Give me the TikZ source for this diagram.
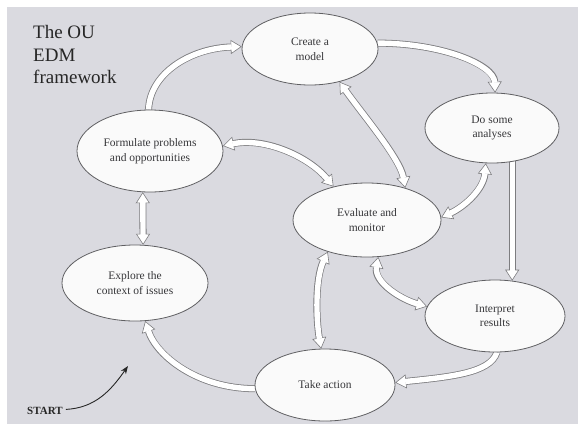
\documentclass[tikz,border=0pt]{standalone}
\usepackage{fontspec}
\setmainfont{Liberation Serif}
\usetikzlibrary{shapes.geometric,arrows.meta}
\pgfdeclarelayer{bg}
\pgfdeclarelayer{edges}
\pgfsetlayers{bg,edges,main}
\definecolor{bggray}{RGB}{218,218,224}
\definecolor{arrgray}{RGB}{125,125,128}
\definecolor{ellgray}{RGB}{95,95,98}
\definecolor{ellfill}{RGB}{250,250,250}
\definecolor{txtgray}{RGB}{55,55,58}
\tikzset{
  stage/.style={ellipse, draw=ellgray, line width=0.8pt, fill=ellfill, inner sep=0pt,
    align=center, text=txtgray, font=\fontsize{11.5}{14.5}\selectfont},
  fatarrow/.style={draw=arrgray, line width=0.6pt,
    -{Triangle[width=14pt,length=11pt,fill=white]},
    postaction={draw=arrgray, line width=7pt, -, shorten >=11pt},
    postaction={draw=white, line width=5.4pt, -, shorten >=10pt}},
  fatdouble/.style={draw=arrgray, line width=0.6pt,
    {Triangle[width=14pt,length=11pt,fill=white]}-{Triangle[width=14pt,length=11pt,fill=white]},
    postaction={draw=arrgray, line width=7pt, -, shorten >=11pt, shorten <=11pt},
    postaction={draw=white, line width=5.4pt, -, shorten >=10pt, shorten <=10pt}},
  titletext/.style={anchor=base west, inner sep=0pt, text=black!85, font=\fontsize{19}{22}\selectfont},
}
\begin{document}
\begin{tikzpicture}[x=1pt,y=1pt]
\useasboundingbox (0,0) rectangle (578,-424);
\begin{pgfonlayer}{bg}
  \fill[white] (0,0) rectangle (578,-424);
  \fill[bggray] (7,-7) rectangle (578,-424);
\end{pgfonlayer}

\node[titletext] (t1) at (33,-38) {The OU};
\node[titletext] (t2) at (33,-61) {EDM};
\node[titletext] (t3) at (33,-83) {framework};

\node[stage, minimum width=136pt, minimum height=72pt] (cm) at (310,-49) {Create a\\model};
\node[stage, minimum width=134pt, minimum height=70pt] (da) at (492,-128) {Do some\\analyses};
\node[stage, minimum width=146pt, minimum height=82pt] (fp) at (150,-151) {Formulate problems\\and opportunities};
\node[stage, minimum width=148pt, minimum height=74pt] (em) at (367,-220) {Evaluate and\\monitor};
\node[stage, minimum width=140pt, minimum height=72pt] (ir) at (495,-316) {Interpret\\results};
\node[stage, minimum width=140pt, minimum height=72pt] (ta) at (325,-385) {Take action};
\node[stage, minimum width=146pt, minimum height=76pt] (ec) at (135,-283) {Explore the\\context of issues};

\node[anchor=base west, inner sep=0pt, text=black!85, font=\fontsize{11}{13}\selectfont\bfseries] (st) at (27,-414) {START};
\coordinate (sttip) at (128,-366);
\draw[line width=0.9pt, black!85, -{Stealth[length=8pt,width=6pt]}]
  ([xshift=3pt,yshift=1pt]st.east) to[out=3,in=-125] (sttip);

\begin{pgfonlayer}{edges}
  \draw[fatarrow] (fp.92) to[out=88,in=182,out distance=36pt,in distance=52pt] (cm.178);
  \draw[fatarrow] (cm.5) to[out=0,in=92,out distance=64pt,in distance=28pt] (da.85);
  \draw[fatarrow] (ir.64 |- da.center) -- (ir.64);
  \draw[fatarrow] (ir.273) to[out=-108,in=6,out distance=22pt,in distance=55pt] (ta.2);
  \draw[fatarrow] (ta.183) to[out=180,in=-72,out distance=58pt,in distance=36pt] (ec.285);
  \draw[fatdouble] (fp.260) -- (ec.78);
  \draw[fatdouble] (cm.312) to[out=-55,in=100,out distance=38pt,in distance=30pt] (em.40);
  \draw[fatdouble] (fp.4) to[out=12,in=130,out distance=42pt,in distance=40pt] (em.135);
  \draw[fatdouble] (da.260) to[out=-95,in=25,out distance=26pt,in distance=26pt] (em.2);
  \draw[fatdouble] (em.287) to[out=-100,in=165,out distance=26pt,in distance=26pt] (ir.172);
  \draw[fatdouble] (em.219) to[out=-115,in=100,out distance=30pt,in distance=30pt] (ta.96);
\end{pgfonlayer}
\end{tikzpicture}
\end{document}
